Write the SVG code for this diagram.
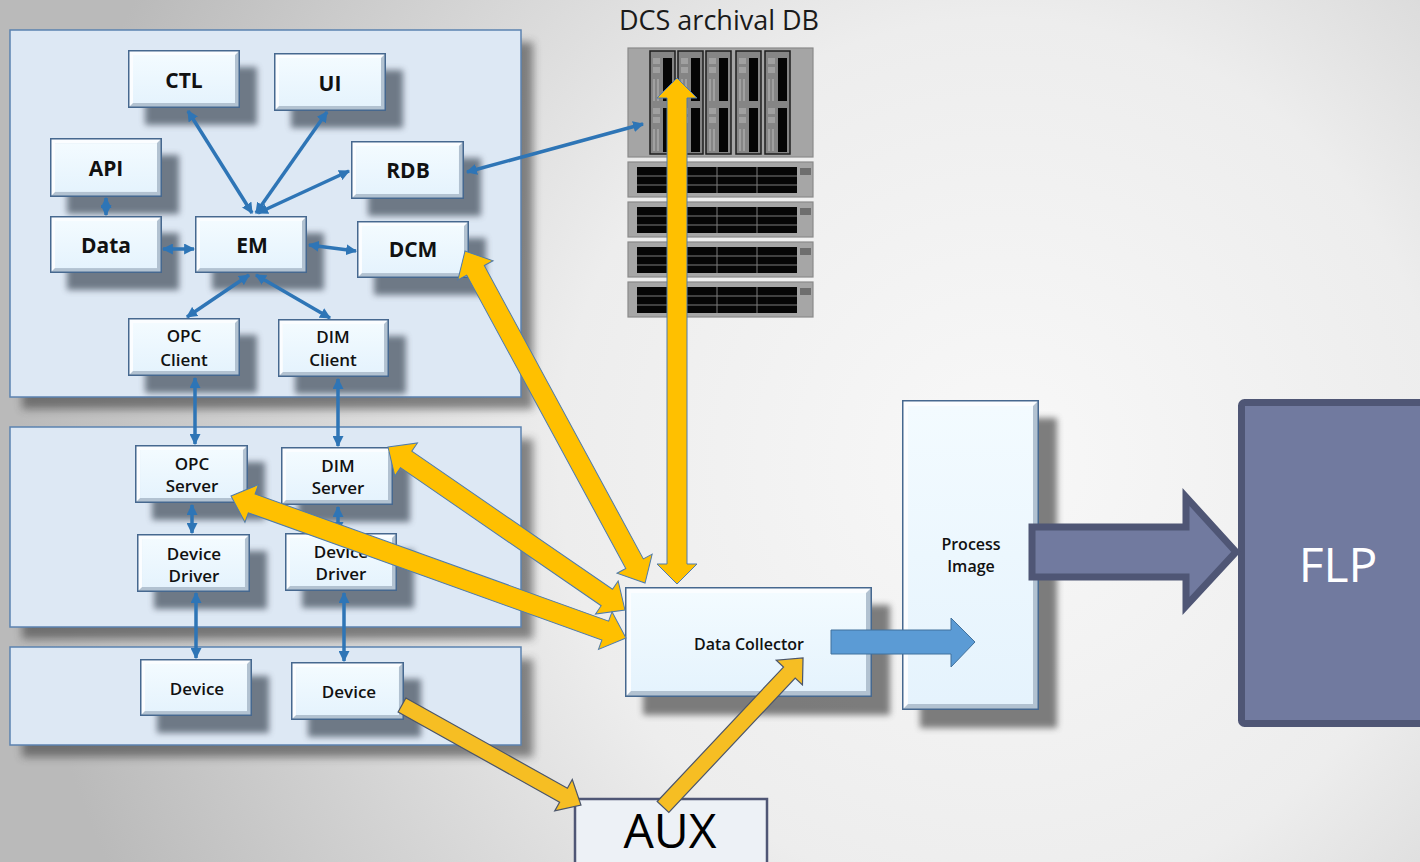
<svg xmlns="http://www.w3.org/2000/svg" xmlns:xlink="http://www.w3.org/1999/xlink" width="1420" height="862" viewBox="0 0 1420 862">
  <defs>
    <radialGradient id="bg" gradientUnits="userSpaceOnUse" cx="1000" cy="460" r="980">
      <stop offset="0" stop-color="#f8f8f8"/>
      <stop offset="0.45" stop-color="#ededed"/>
      <stop offset="1" stop-color="#bababa"/>
    </radialGradient>
    <linearGradient id="face" x1="0" y1="0" x2="0" y2="1">
      <stop offset="0" stop-color="#f3fbff"/>
      <stop offset="1" stop-color="#e5f3fd"/>
    </linearGradient>
    <filter id="blur3" x="-20%" y="-20%" width="140%" height="140%">
      <feGaussianBlur stdDeviation="3"/>
    </filter>
    <filter id="blur4" x="-10%" y="-10%" width="120%" height="120%">
      <feGaussianBlur stdDeviation="4"/>
    </filter>
    <!-- bevelled box used by the small software blocks -->
    <symbol id="bx" viewBox="0 0 112 58" preserveAspectRatio="none">
      <rect width="112" height="58" fill="#b2c2d1"/>
      <polygon points="0,0 112,0 107,5 5,5 5,53 0,58" fill="#fbfdff"/>
      <rect x="5" y="5" width="102" height="48" fill="url(#face)"/>
      <rect x="0.75" y="0.75" width="110.5" height="56.5" fill="none" stroke="#46688f" stroke-width="1.5"/>
    </symbol>
    <!-- drive bay of the storage head unit -->
    <g id="bay">
      <rect x="0" y="0" width="25" height="103" fill="#858585" stroke="#1e1e1e" stroke-width="1.5"/>
      <rect x="3" y="7" width="7" height="6" fill="#a0a0a0"/>
      <rect x="3" y="16" width="7" height="6" fill="#a0a0a0"/>
      <rect x="3" y="28" width="2" height="22" fill="#a0a0a0"/>
      <rect x="7" y="28" width="2" height="22" fill="#a0a0a0"/>
      <rect x="3" y="57" width="7" height="6" fill="#a0a0a0"/>
      <rect x="3" y="66" width="7" height="6" fill="#a0a0a0"/>
      <rect x="3" y="78" width="2" height="22" fill="#a0a0a0"/>
      <rect x="7" y="78" width="2" height="22" fill="#a0a0a0"/>
      <rect x="13" y="7" width="9" height="43" fill="#050505"/>
      <rect x="13" y="57" width="9" height="44" fill="#050505"/>
    </g>
    <!-- 1U drive shelf -->
    <g id="unit">
      <rect x="0" y="0" width="185" height="35" fill="#a6a6a6" stroke="#8a8a8a" stroke-width="1.2"/>
      <rect x="9" y="5" width="160" height="26" fill="#060606"/>
      <path d="M57,5V31M89,5V31M129,5V31M9,14H169M9,23H169" stroke="#7c7c7c" stroke-width="1" fill="none"/>
      <rect x="172" y="6" width="11" height="7" fill="#6e6e6e"/>
    </g>
    <marker id="ah" viewBox="0 0 10 10" refX="9" refY="5" markerWidth="11" markerHeight="11" markerUnits="userSpaceOnUse" orient="auto-start-reverse">
      <path d="M0,0 L10,5 L0,10 z" fill="#2e75b6"/>
    </marker>
    <style>
      .panel { fill: #dde8f4; stroke: #5b82b0; stroke-width: 1.5; }
      .psh { fill: #3c3c3c; opacity: 0.6; filter: url(#blur4); }
      .sh { fill: #4f5a68; opacity: 0.78; filter: url(#blur3); }
      .shb { fill: #5e5e5e; opacity: 0.8; filter: url(#blur3); }
      .t1 { font-family: "Open Sans", "Noto Sans", sans-serif; font-weight: 700; font-size: 21px; fill: #111; text-anchor: middle; }
      .t2 { font-family: "Open Sans", "Noto Sans", sans-serif; font-weight: 600; font-size: 17px; fill: #111; text-anchor: middle; }
      .t3 { font-family: "Open Sans", "Noto Sans", sans-serif; font-weight: 600; font-size: 16px; fill: #111; text-anchor: middle; }
      .big { font-family: "Open Sans", "Noto Sans", sans-serif; font-weight: 400; text-anchor: middle; }
      .bl { stroke: #2e75b6; stroke-width: 3.5; fill: none; marker-start: url(#ah); marker-end: url(#ah); }
      .ya { fill: #ffc000; stroke: #4f7bab; stroke-width: 1; }
      .yb { fill: #f6be23; stroke: #4a556b; stroke-width: 1.2; }
    </style>
  </defs>

  <!-- backdrop -->
  <rect width="1420" height="862" fill="url(#bg)"/>

  <!-- layer panels -->
  <g id="panels">
    <rect class="psh" x="22" y="42" width="511" height="367"/>
    <rect class="panel" x="10" y="30" width="511" height="367"/>
    <rect class="psh" x="22" y="439" width="511" height="200"/>
    <rect class="panel" x="10" y="427" width="511" height="200"/>
    <rect class="psh" x="22" y="659" width="511" height="98"/>
    <rect class="panel" x="10" y="647" width="511" height="98"/>
  </g>

  <!-- software blocks -->
  <g id="n-ctl">
    <rect class="sh" x="145" y="67" width="112" height="58"/>
    <use xlink:href="#bx" x="128" y="50" width="112" height="58"/>
    <text class="t1" x="184" y="88">CTL</text>
  </g>
  <g id="n-ui">
    <rect class="sh" x="291" y="70" width="112" height="58"/>
    <use xlink:href="#bx" x="274" y="53" width="112" height="58"/>
    <text class="t1" x="330" y="91">UI</text>
  </g>
  <g id="n-api">
    <rect class="sh" x="67" y="155" width="112" height="59"/>
    <use xlink:href="#bx" x="50" y="138" width="112" height="59"/>
    <text class="t1" x="106" y="176">API</text>
  </g>
  <g id="n-rdb">
    <rect class="sh" x="368" y="158" width="113" height="58"/>
    <use xlink:href="#bx" x="351" y="141" width="113" height="58"/>
    <text class="t1" x="408" y="178">RDB</text>
  </g>
  <g id="n-data">
    <rect class="sh" x="67" y="233" width="112" height="57"/>
    <use xlink:href="#bx" x="50" y="216" width="112" height="57"/>
    <text class="t1" x="106" y="253">Data</text>
  </g>
  <g id="n-em">
    <rect class="sh" x="212" y="233" width="112" height="57"/>
    <use xlink:href="#bx" x="195" y="216" width="112" height="57"/>
    <text class="t1" x="252" y="253">EM</text>
  </g>
  <g id="n-dcm">
    <rect class="sh" x="374" y="238" width="112" height="57"/>
    <use xlink:href="#bx" x="357" y="221" width="112" height="57"/>
    <text class="t1" x="413" y="257">DCM</text>
  </g>
  <g id="n-opc-client">
    <rect class="sh" x="145" y="335" width="112" height="58"/>
    <use xlink:href="#bx" x="128" y="318" width="112" height="58"/>
    <text class="t2" x="184" y="342">OPC</text>
    <text class="t2" x="184" y="366">Client</text>
  </g>
  <g id="n-dim-client">
    <rect class="sh" x="295" y="336" width="111" height="58"/>
    <use xlink:href="#bx" x="278" y="319" width="111" height="58"/>
    <text class="t2" x="333" y="343">DIM</text>
    <text class="t2" x="333" y="366">Client</text>
  </g>
  <g id="n-opc-server">
    <rect class="sh" x="152" y="462" width="113" height="58"/>
    <use xlink:href="#bx" x="135" y="445" width="113" height="58"/>
    <text class="t2" x="192" y="470">OPC</text>
    <text class="t2" x="192" y="492">Server</text>
  </g>
  <g id="n-dim-server">
    <rect class="sh" x="298" y="464" width="112" height="58"/>
    <use xlink:href="#bx" x="281" y="447" width="112" height="58"/>
    <text class="t2" x="338" y="472">DIM</text>
    <text class="t2" x="338" y="494">Server</text>
  </g>
  <g id="n-driver-1">
    <rect class="sh" x="154" y="551" width="113" height="58"/>
    <use xlink:href="#bx" x="137" y="534" width="113" height="58"/>
    <text class="t2" x="194" y="560">Device</text>
    <text class="t2" x="194" y="582">Driver</text>
  </g>
  <g id="n-driver-2">
    <rect class="sh" x="302" y="550" width="112" height="58"/>
    <use xlink:href="#bx" x="285" y="533" width="112" height="58"/>
    <text class="t2" x="341" y="558">Device</text>
    <text class="t2" x="341" y="580">Driver</text>
  </g>
  <g id="n-device-1">
    <rect class="sh" x="157" y="676" width="112" height="57"/>
    <use xlink:href="#bx" x="140" y="659" width="112" height="57"/>
    <text class="t2" x="197" y="695">Device</text>
  </g>
  <g id="n-device-2">
    <rect class="sh" x="308" y="679" width="113" height="58"/>
    <use xlink:href="#bx" x="291" y="662" width="113" height="58"/>
    <text class="t2" x="349" y="698">Device</text>
  </g>

  <!-- archival storage -->
  <g id="n-archive">
    <text class="big" x="719" y="30" font-size="27" fill="#1a1a1a">DCS archival DB</text>
    <rect x="628" y="48" width="185" height="109" fill="#a5a5a5" stroke="#8a8a8a" stroke-width="1.2"/>
    <use xlink:href="#bay" x="650" y="51"/>
    <use xlink:href="#bay" x="678" y="51"/>
    <use xlink:href="#bay" x="706" y="51"/>
    <use xlink:href="#bay" x="736" y="51"/>
    <use xlink:href="#bay" x="765" y="51"/>
    <use xlink:href="#unit" x="628" y="162"/>
    <use xlink:href="#unit" x="628" y="202"/>
    <use xlink:href="#unit" x="628" y="242"/>
    <use xlink:href="#unit" x="628" y="282"/>
  </g>

  <!-- collector -->
  <g id="n-collector">
    <rect class="shb" x="643" y="605" width="247" height="110"/>
    <rect x="625" y="587" width="247" height="110" fill="#b2c2d1"/>
    <polygon points="625,587 872,587 866,593 631,593 631,691 625,697" fill="#fbfdff"/>
    <rect x="631" y="593" width="235" height="98" fill="url(#face)"/>
    <rect x="625.75" y="587.75" width="245.5" height="108.5" fill="none" stroke="#46688f" stroke-width="1.5"/>
    <text class="t3" x="749" y="650">Data Collector</text>
  </g>

  <!-- process image -->
  <g id="n-process-image">
    <rect class="shb" x="920" y="418" width="137" height="310"/>
    <rect x="902" y="400" width="137" height="310" fill="#b2c2d1"/>
    <polygon points="902,400 1039,400 1033,406 908,406 908,704 902,710" fill="#fbfdff"/>
    <rect x="908" y="406" width="125" height="298" fill="url(#face)"/>
    <rect x="902.75" y="400.75" width="135.5" height="308.5" fill="none" stroke="#46688f" stroke-width="1.5"/>
    <text class="t3" x="971" y="550">Process</text>
    <text class="t3" x="971" y="572">Image</text>
  </g>

  <!-- FLP -->
  <g id="n-flp">
    <rect x="1241.5" y="402.5" width="200" height="321" rx="3" fill="#717a9f" stroke="#4f5675" stroke-width="7"/>
    <text class="big" x="1338" y="582" font-size="48" fill="#ffffff">FLP</text>
  </g>

  <!-- AUX -->
  <g id="n-aux">
    <rect x="575" y="799" width="192" height="80" fill="#edf1f6" stroke="#4f5675" stroke-width="2.5"/>
    <text class="big" x="670" y="848" font-size="48" fill="#000000">AUX</text>
  </g>

  <!-- connectors -->
  <g id="connectors">
    <line class="bl" x1="188" y1="111" x2="252" y2="213"/>
    <line class="bl" x1="327" y1="112" x2="256" y2="213"/>
    <line class="bl" x1="349" y1="171" x2="258" y2="213"/>
    <line class="bl" x1="106" y1="198" x2="106" y2="215"/>
    <line class="bl" x1="163" y1="249" x2="194" y2="249"/>
    <line class="bl" x1="309" y1="245" x2="356" y2="251"/>
    <line class="bl" x1="249" y1="275" x2="187" y2="317"/>
    <line class="bl" x1="256" y1="275" x2="330" y2="318"/>
    <line class="bl" x1="467" y1="172" x2="643" y2="124"/>
    <line class="bl" x1="195" y1="378" x2="195" y2="444"/>
    <line class="bl" x1="338" y1="379" x2="338" y2="446"/>
    <line class="bl" x1="192" y1="505" x2="192" y2="533"/>
    <line class="bl" x1="338" y1="507" x2="338" y2="532"/>
    <line class="bl" x1="196" y1="593" x2="196" y2="658"/>
    <line class="bl" x1="344" y1="593" x2="344" y2="661"/>

    <!-- wide yellow data paths to the collector -->
    <polygon class="ya" transform="translate(465,251) rotate(61.53)" points="0,0 22,-20 22,-10 355.7,-10 355.7,-20 377.7,0 355.7,20 355.7,10 22,10 22,20"/>
    <polygon class="ya" transform="translate(388,447) rotate(34.52)" points="0,0 22,-20 22,-10 265.6,-10 265.6,-20 287.6,0 265.6,20 265.6,10 22,10 22,20"/>
    <polygon class="ya" transform="translate(231,496) rotate(19.77)" points="0,0 22,-20 22,-10 397.7,-10 397.7,-20 419.7,0 397.7,20 397.7,10 22,10 22,20"/>
    <polygon class="ya" transform="translate(677,78) rotate(90)" points="0,0 20,-20 20,-10 486,-10 486,-20 506,0 486,20 486,10 20,10 20,20"/>
    <polygon class="yb" transform="translate(402,705) rotate(29.19)" points="0,-8 185,-8 185,-18 205,0 185,18 185,8 0,8"/>
    <polygon class="yb" transform="translate(663,807) rotate(-46.78)" points="0,-8 184.5,-8 184.5,-18 204.5,0 184.5,18 184.5,8 0,8"/>

    <!-- block arrows -->
    <polygon points="831,630 951,630 951,618 975,642 951,667 951,654 831,654" fill="#5b9bd5" stroke="#41719c" stroke-width="1"/>
    <polygon points="1032,527 1186,527 1186,497 1236,552 1186,606 1186,577 1032,577" fill="#717a9f" stroke="#4f5675" stroke-width="7" stroke-linejoin="miter"/>
  </g>
</svg>
